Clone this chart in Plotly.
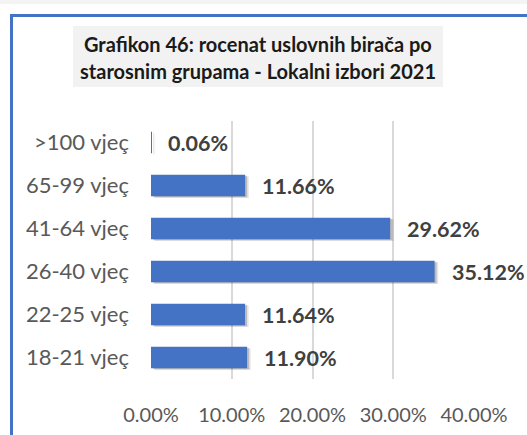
import plotly.graph_objects as go

# Age groups (bottom to top) and share of registered voters, %
categories = ["18-21 vjeç", "22-25 vjeç", "26-40 vjeç", "41-64 vjeç", "65-99 vjeç", ">100 vjeç"]
shares = [11.90, 11.64, 35.12, 29.62, 11.66, 0.06]
tick_values = [0, 10, 20, 30, 40]
tick_labels = ["0.00%", "10.00%", "20.00%", "30.00%", "40.00%"]
title_lines = ["Grafikon 46: rocenat uslovnih birača po", "starosnim grupama - Lokalni izbori 2021"]

W, H = 527, 435
BLUE = "#4472C4"
FONT = "Lato"

fig = go.Figure()

# soft drop shadow under each bar
for shift, alpha in [(0.45, 0.10), (0.25, 0.18)]:
    fig.add_trace(go.Bar(
        y=categories, x=shares, base=shift, orientation="h",
        width=0.5, offset=-0.25 - shift * 0.09,
        marker=dict(color=f"rgba(0,0,0,{alpha})", line=dict(width=0)),
        hoverinfo="skip", showlegend=False,
    ))

fig.add_trace(go.Bar(
    y=categories, x=shares, orientation="h", width=0.5,
    marker=dict(color=BLUE, line=dict(width=0)),
    hoverinfo="skip", showlegend=False,
))

# value labels to the right of each bar
for cat, val in zip(categories, shares):
    fig.add_annotation(
        x=val, y=cat, xref="x", yref="y", text=f"<b>{val:.2f}%</b>",
        showarrow=False, xanchor="left", yanchor="middle", xshift=15,
        font=dict(family=FONT, size=21.5, color="#404040"),
    )

x0, x1 = 151, 474
y_top, y_bot = 121, 379

fig.update_layout(
    width=W, height=H,
    margin=dict(l=0, r=0, t=0, b=0, autoexpand=False),
    paper_bgcolor="white", plot_bgcolor="white",
    barmode="overlay", bargap=0.5,
    xaxis=dict(
        domain=[x0 / W, x1 / W], range=[0, 40],
        tickvals=tick_values, ticktext=tick_labels,
        showgrid=True, gridcolor="#d9d9d9", gridwidth=1.5,
        zeroline=False, showline=False,
        ticks="", ticklabelstandoff=22,
        tickfont=dict(family=FONT, size=20, color="#595959"),
        fixedrange=True,
    ),
    yaxis=dict(
        domain=[(H - y_bot) / H, (H - y_top) / H],
        categoryorder="array", categoryarray=categories,
        showgrid=False, zeroline=False, showline=False,
        ticks="", ticklabelstandoff=21,
        tickfont=dict(family=FONT, size=22, color="#595959"),
        fixedrange=True,
    ),
    shapes=[
        # faint strip along the very top
        dict(type="rect", xref="paper", yref="paper", x0=0, x1=1,
             y0=1 - 4 / H, y1=1, fillcolor="#f4f4f4", line=dict(width=0), layer="below"),
        # title background box
        dict(type="rect", xref="paper", yref="paper",
             x0=73 / W, x1=443 / W, y0=1 - 87 / H, y1=1 - 26 / H,
             fillcolor="#f2f2f2", line=dict(width=0), layer="below"),
        # blue frame: top and left edges
        dict(type="line", xref="paper", yref="paper",
             x0=10 / W, x1=1, y0=1 - 15.5 / H, y1=1 - 15.5 / H,
             line=dict(color=BLUE, width=3)),
        dict(type="line", xref="paper", yref="paper",
             x0=11.5 / W, x1=11.5 / W, y0=0, y1=1 - 14 / H,
             line=dict(color=BLUE, width=3)),
    ],
)

for i, line in enumerate(title_lines):
    fig.add_annotation(
        x=258 / W, y=1 - (44 + 27 * i) / H, xref="paper", yref="paper",
        text=f"<b>{line}</b>", showarrow=False, xanchor="center", yanchor="middle",
        font=dict(family=FONT, size=20, color="#1a1a1a"),
    )

fig.write_html("out.html", config={"displayModeBar": False})
